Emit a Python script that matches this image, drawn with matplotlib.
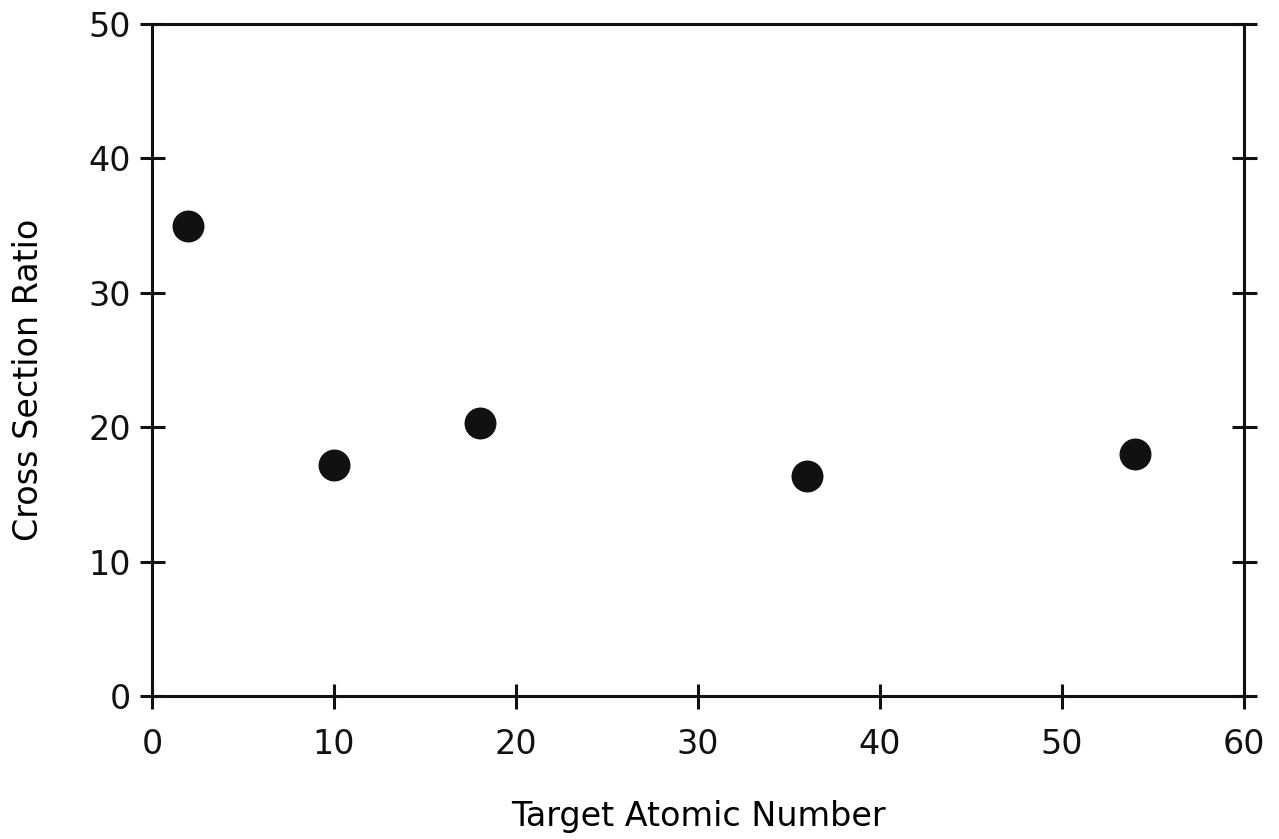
import matplotlib
matplotlib.use('Agg')
import matplotlib.pyplot as plt

# Target atomic number (He, Ne, Ar, Kr, Xe) and measured ratio
atomic_number = [2, 10, 18, 36, 54]
cross_section_ratio = [35.0, 17.2, 20.3, 16.4, 18.0]

x_ticks = [0, 10, 20, 30, 40, 50, 60]
y_ticks = [0, 10, 20, 30, 40, 50]

plt.rcParams['font.family'] = ['DejaVu Sans']

fig = plt.figure(figsize=(12.79, 8.39), dpi=100)
ax = fig.add_axes([0.1188, 0.1704, 0.8538, 0.8010])

ax.plot(atomic_number, cross_section_ratio, 'o', color='#111111',
        markersize=23, markeredgewidth=0)

ax.set_xlim(0, 60)
ax.set_ylim(0, 50)
ax.set_xticks(x_ticks)
ax.set_yticks(y_ticks)

for side in ['left', 'right', 'top', 'bottom']:
    ax.spines[side].set_linewidth(2.2)
    ax.spines[side].set_color('#111111')

ax.tick_params(axis='both', direction='inout', length=18, width=2.2,
               labelsize=24, colors='#111111')
ax.tick_params(axis='x', pad=14, top=False)
ax.tick_params(axis='y', pad=6, right=True, labelright=False)

ax.set_xlabel('Target Atomic Number', fontsize=24)
ax.set_ylabel('Cross Section Ratio', fontsize=24)
# label positions in axes coords (the ylabel sits a bit below centre)
ax.xaxis.set_label_coords(0.50, -0.155)
ax.yaxis.set_label_coords(-0.098, 0.47)

fig.savefig('out.png', dpi=100)
